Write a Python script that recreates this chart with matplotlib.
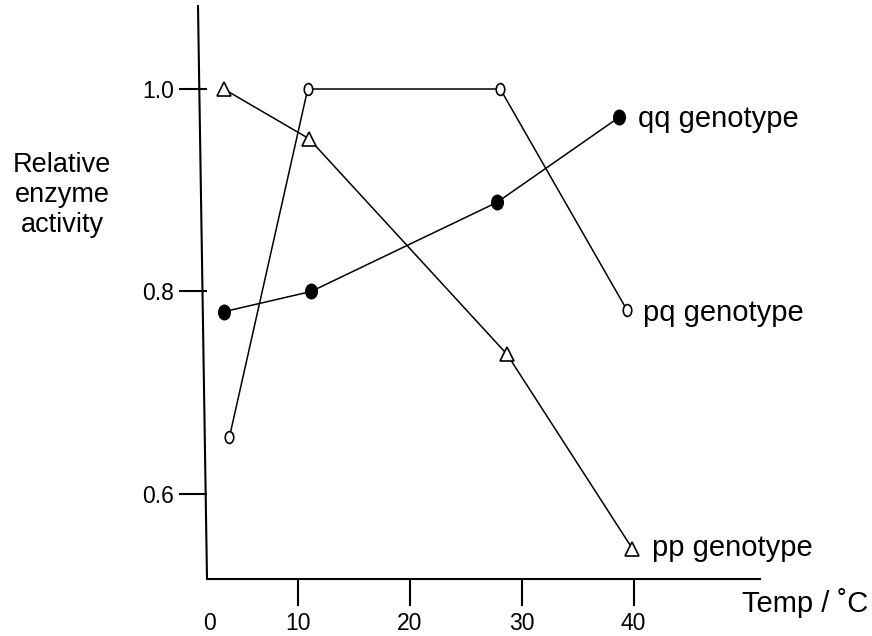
import matplotlib.pyplot as plt
import matplotlib.path as mpath
from matplotlib.transforms import Affine2D

plt.rcParams['font.family'] = ['Liberation Sans', 'DejaVu Sans']

# temperatures (deg C) and relative activity
temp_pp = [3.4, 11.0, 28.7, 39.9]
act_pp = [1.00, 0.951, 0.738, 0.546]
temp_pq = [3.9, 10.9, 28.1, 39.4]
act_pq = [0.656, 1.00, 1.00, 0.782]
temp_qq = [3.4, 11.2, 27.8, 38.7]
act_qq = [0.780, 0.800, 0.888, 0.972]

xticks = [10, 20, 30, 40]
yticks = [0.6, 0.8, 1.0]
ytick_labels = ['0.6', '0.8', '1.0']

# tall oval marker like in the scan
oval = mpath.Path.unit_circle().transformed(Affine2D().scale(0.72, 1.0))
oval_fat = mpath.Path.unit_circle().transformed(Affine2D().scale(0.8, 1.0))

fig = plt.figure(figsize=(8.72, 6.36), dpi=100)
ax = fig.add_axes([207 / 872, 1 - 579 / 636, 553 / 872, 573 / 636])
ax.set_xlim(1.9, 51.3)
ax.set_ylim(0.516, 1.082)

lw = 1.1
ax.plot(temp_pq, act_pq, color='black', lw=lw, marker=oval, ms=8.5,
        mfc='white', mec='black', mew=1.2, zorder=3)
ax.plot(temp_qq, act_qq, color='black', lw=lw, marker=oval_fat, ms=10.5,
        mfc='black', mec='black', zorder=3)
ax.plot(temp_pp, act_pp, color='black', lw=lw, marker='^', ms=9.5,
        mfc='white', mec='black', mew=1.2, zorder=3)

lab = dict(fontsize=21, va='baseline', ha='left', textcoords='offset pixels')
ax.annotate('qq genotype', xy=(temp_qq[-1], act_qq[-1]), xytext=(19, -10), **lab)
ax.annotate('pq genotype', xy=(temp_pq[-1], act_pq[-1]), xytext=(16, -11), **lab)
ax.annotate('pp genotype', xy=(temp_pp[-1], act_pp[-1]), xytext=(20, -7), **lab)

# spines: only bottom, plus a slightly leaning left axis line
for s in ['top', 'right', 'left']:
    ax.spines[s].set_visible(False)
ax.spines['bottom'].set_linewidth(1.5)
ax.plot([0, -9 / 553], [0, 1], transform=ax.transAxes, color='black',
        lw=1.5, clip_on=False)

ax.set_xticks(xticks)
ax.set_xticklabels([str(t) for t in xticks])
ax.set_yticks(yticks)
ax.set_yticklabels(ytick_labels)
ax.tick_params(axis='x', length=19.5, width=1.5, pad=4, labelsize=16.5)
ax.tick_params(axis='y', length=20, width=1.5, pad=3.5, labelsize=16.5)

ax.annotate('0', xy=(0, 0), xycoords='axes fraction', xytext=(2, -44),
            textcoords='offset pixels', ha='center', va='center', fontsize=16.5)
ax.annotate('Temp / ˚C', xy=(1, 0), xycoords='axes fraction', xytext=(-18, -33),
            textcoords='offset pixels', ha='left', va='baseline', fontsize=21)

fig.text(62 / 872, 1 - 195 / 636, 'Relative\nenzyme\nactivity', ha='center',
         va='center', multialignment='center', fontsize=19.5)

fig.savefig('out.png', dpi=100)
